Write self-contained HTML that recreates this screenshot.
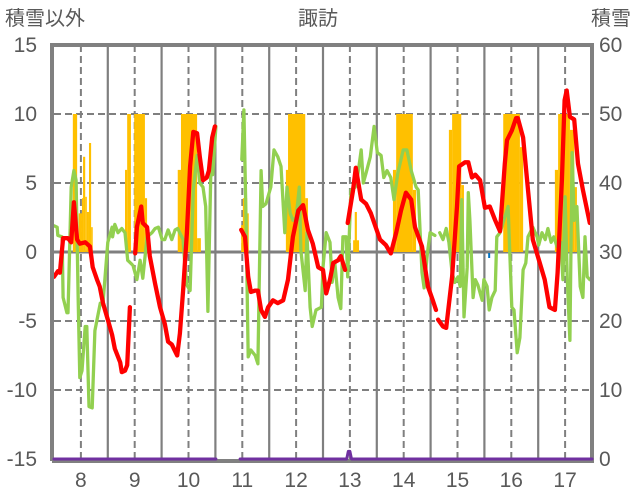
<!DOCTYPE html>
<html><head><meta charset="utf-8"><style>
html,body{margin:0;padding:0;background:#fff;}
svg{display:block;font-family:"Liberation Sans","Noto Sans CJK JP",sans-serif;}
</style></head><body>
<svg id="chart" width="636" height="501" viewBox="0 0 636 501" xmlns="http://www.w3.org/2000/svg">
<text x="5" y="25" font-size="20" fill="#595959">積雪以外</text>
<text x="318" y="25" font-size="20" fill="#595959" text-anchor="middle">諏訪</text>
<text x="631" y="25" font-size="20" fill="#595959" text-anchor="end">積雪</text>
<g id="grid"></g>
<g id="bars"></g>
<g id="lines"></g>
<g id="frame"></g>
<g id="ticks"></g>
</svg>
<script>
const yearTicks=[8,9,10,11,12,13,14,15,16,17];
const leftTicks=[15,10,5,0,-5,-10,-15];
const rightTicks=[60,50,40,30,20,10,0];
const redSegs=[
 {t:[7.50,7.57,7.61,7.67,7.76,7.82,7.87,7.93,7.98,8.08,8.17,8.22,8.30,8.35,8.41,8.50,8.58,8.63,8.73,8.76,8.82,8.86,8.91],
  v:[-1.8,-1.4,-1.5,1.0,1.0,0.7,3.6,0.9,0.6,0.7,0.4,-1.1,-2.0,-2.5,-3.7,-4.9,-6.0,-7.0,-8.0,-8.7,-8.6,-8.2,-4.0]},
 {t:[9.01,9.04,9.12,9.15,9.23,9.28,9.38,9.47,9.56,9.62,9.69,9.79,9.84,9.90,9.97,10.03,10.09,10.16,10.21,10.27,10.34,10.38,10.44,10.49],
  v:[-0.1,1.8,3.3,2.1,1.8,-0.3,-2.3,-4.0,-5.2,-6.5,-6.7,-7.5,-5.9,-2.8,1.4,6.2,8.7,8.6,6.9,5.2,5.4,5.9,8.3,9.1]},
 {t:[10.98,11.05,11.11,11.16,11.24,11.29,11.35,11.42,11.48,11.57,11.66,11.76,11.85,11.94,12.04,12.13,12.22,12.31,12.41,12.50,12.56,12.63,12.69,12.78,12.83,12.91],
  v:[1.6,1.1,-1.8,-2.9,-2.8,-2.8,-4.2,-4.7,-4.0,-3.5,-3.7,-3.5,-2.0,1.1,3.0,3.4,1.6,0.6,-1.1,-1.3,-3.0,-2.0,-0.8,-0.6,-0.3,-1.3]},
 {t:[12.96,13.06,13.11,13.21,13.30,13.39,13.56,13.67,13.76,13.86,13.95,14.04,14.14,14.21,14.34,14.45,14.54,14.60],
  v:[2.1,4.5,6.1,3.8,3.5,2.8,0.9,0.5,-0.1,1.4,3.0,4.3,3.8,1.8,0.4,-2.5,-3.5,-4.2]},
 {t:[14.64,14.73,14.79,14.90,14.99,15.03,15.14,15.20,15.27,15.33,15.42,15.51,15.60,15.70,15.79,15.88,15.92,16.01,16.09,16.12,16.22,16.31,16.40,16.53,16.62,16.71,16.81,16.86,16.94,16.99,17.03,17.09,17.17,17.24,17.33,17.41,17.46],
  v:[-4.9,-5.4,-5.5,-1.8,3.3,6.2,6.5,6.5,5.4,5.6,5.2,3.2,3.3,2.3,1.5,6.4,8.1,8.8,9.7,9.7,8.3,4.5,0.9,-0.8,-2.0,-4.0,-4.2,-1.5,5.2,11.0,11.7,9.8,9.6,6.4,4.5,3.0,2.1]}
];
const greenSegs=[
 {t:[7.50,7.56,7.57,7.65,7.67,7.74,7.76,7.82,7.87,7.91,7.95,7.98,8.02,8.08,8.11,8.15,8.21,8.26,8.36,8.41,8.50,8.58,8.59,8.63,8.69,8.76,8.82,8.87,8.95],
  v:[1.9,1.8,1.2,1.1,-3.3,-4.4,-4.4,4.7,5.9,5.2,-3.5,-9.1,-8.6,-5.4,-5.4,-11.2,-11.3,-5.7,-3.7,-3.7,0.7,1.8,1.1,2.0,1.4,1.7,1.4,-0.6,-0.9]},
 {t:[8.97,9.04,9.10,9.15,9.23,9.32,9.38,9.44,9.51,9.56,9.62,9.69,9.75,9.80,9.90,9.93,9.97,10.03,10.09,10.16,10.21,10.27,10.32,10.36,10.42,10.45,10.51],
  v:[-1.0,-2.0,-0.6,-1.9,1.1,1.4,1.7,1.8,0.9,0.9,1.6,0.9,1.6,1.7,0.9,-0.8,-2.4,-2.8,4.5,7.0,5.0,4.7,3.3,-4.3,6.7,5.6,9.1]},
 {t:[10.99,11.03,11.07,11.11,11.16,11.24,11.29,11.35,11.38,11.44,11.53,11.59,11.66,11.72,11.79,11.83,11.89,11.94,12.00,12.06,12.09,12.17,12.20,12.26,12.30,12.37,12.47,12.50,12.56,12.63,12.67,12.72,12.78,12.83,12.87,12.93,12.96,13.02,13.10,13.15,13.21,13.25,13.30,13.38,13.45,13.51,13.58,13.63,13.69,13.76,13.82,13.89,13.99,14.06,14.14,14.23,14.27,14.34,14.38,14.44,14.49,14.58],
  v:[6.7,10.3,2.1,-7.6,-7.1,-7.5,-8.1,5.9,3.3,3.5,4.7,7.4,6.9,6.2,1.4,4.7,2.8,2.3,2.5,4.7,0.1,-2.8,1.4,-4.0,-5.4,-4.2,-4.0,-1.1,1.4,0.7,-2.2,-0.8,-3.3,-4.1,1.1,1.1,-1.8,4.5,4.7,5.7,7.4,5.0,5.7,6.9,9.1,7.2,7.0,5.4,5.9,5.4,3.8,5.7,7.4,7.4,5.9,4.7,4.5,-1.5,-2.6,-0.1,1.4,1.2]},
 {t:[14.67,14.73,14.79,14.84,14.90,14.95,15.01,15.05,15.08,15.12,15.18,15.20,15.23,15.29,15.33,15.38,15.46,15.49,15.55,15.59,15.64,15.70,15.73,15.79,15.86,15.94,16.01,16.05,16.11,16.16,16.22,16.27,16.31,16.40,16.48,16.51,16.57,16.63,16.68,16.74,16.79,16.85,16.92,16.96,17.00,17.04,17.09,17.13,17.17,17.22,17.28,17.33,17.37,17.41,17.46],
  v:[1.4,0.9,1.7,0.7,-1.5,-2.2,-1.8,-2.5,3.8,-4.7,-1.1,4.3,2.3,-3.3,-2.0,-2.4,-3.5,-2.0,-2.5,-4.2,-3.3,-2.8,1.1,1.4,2.3,3.3,-4.0,-4.2,-7.3,-6.2,-1.3,-0.8,1.1,1.8,1.1,0.5,1.4,0.9,1.7,0.7,1.1,0.4,0.7,-2.0,4.0,-2.0,-6.4,7.2,2.3,3.3,-2.5,-3.3,1.1,-1.8,-2.0]}
];
const snowStart=[7.85,7.96,8.02,8.04,8.08,8.11,8.15,8.19,8.82,8.86,8.99,9.19,9.80,9.86,10.16,10.98,11.01,11.07,11.81,11.85,12.17,13.06,13.09,13.80,13.86,14.17,14.84,14.90,15.07,15.85,16.16,16.81,16.87,17.09,17.17];
const snowEnd=[7.93,8.02,8.04,8.08,8.11,8.15,8.19,8.22,8.86,8.93,9.19,9.23,9.86,10.16,10.23,11.05,11.09,11.12,11.87,12.17,12.22,13.17,13.13,13.86,14.17,14.23,14.90,15.07,15.12,16.16,16.22,16.87,17.09,17.17,17.22];
const snowVal=[50,35.6,37.8,43.8,38,35.8,45.8,33.6,41.9,50,50,37.8,41.9,50,32,33.9,37.8,35.6,41.9,50,37.8,31.7,35.8,41.9,50,39,47.7,50,39.7,50,45.2,41.9,50,47.7,39.4];
const purpleSegs=[{t:[7.5,10.51],v:[0,0]},{t:[10.96,12.94,12.97,13.0,13.03,17.5],v:[0,0,1.1,1.1,0,0]}];

const X0=54,X1=592,YT=45,YB=459;
const xs=t=>X0+(t-7.5)/10*(X1-X0);
const yl=v=>YT+(15-v)/30*(YB-YT);
const yr=v=>YT+(60-v)/60*(YB-YT);
const NS='http://www.w3.org/2000/svg';
function mk(tag,attrs,parent){const e=document.createElementNS(NS,tag);for(const k in attrs)e.setAttribute(k,attrs[k]);parent.appendChild(e);return e;}
const grid=document.getElementById('grid'),bars=document.getElementById('bars'),lines=document.getElementById('lines'),frame=document.getElementById('frame'),ticks=document.getElementById('ticks');
leftTicks.forEach(v=>{
  if(v===15||v===-15)return;
  const l=mk('line',{x1:X0,x2:X1,y1:yl(v),y2:yl(v),stroke:'#7f7f7f','stroke-width':v===0?3:2,'stroke-dasharray':v===0?'':'7 4'},grid);
  
  
});
yearTicks.forEach(y=>{
  const d=mk('line',{x1:xs(y),x2:xs(y),y1:YT,y2:YB,stroke:'#7f7f7f','stroke-width':2,'stroke-dasharray':'7 4'},grid);
  
  
  if(y<17){const s=mk('line',{x1:xs(y+0.5),x2:xs(y+0.5),y1:YT,y2:YB,stroke:'#7f7f7f','stroke-width':2.2},grid);
  
  }
});
snowVal.forEach((v,i)=>{
  const x=xs(snowStart[i]),w=xs(snowEnd[i])-x;
  const r=mk('rect',{x:x,y:yr(v),width:w,height:yr(30)-yr(v),fill:'#ffc000'},bars);
  
  
});
function drawSegs(segs,color,w,name,yf,parent){
  segs.forEach(s=>{
    const p=mk('polyline',{points:s.t.map((t,i)=>xs(t).toFixed(1)+','+yf(s.v[i]).toFixed(1)).join(' '),fill:'none',stroke:color,'stroke-width':w,'stroke-linejoin':'round','stroke-linecap':'round'},parent);
    
    
  });
}
drawSegs(greenSegs,'#92d050',3.3,'green-series',yl,lines);
drawSegs(redSegs,'#ff0000',4.3,'red-series',yl,lines);
const fr=mk('path',{d:`M${X0-2},${YB+2} V${YT} H${X1} V${YB+2} H${X0-2}`,fill:'none',stroke:'#808080','stroke-width':4},frame);


drawSegs(purpleSegs,'#7030a0',3,'purple-series',yr,frame);
const bm=mk('rect',{x:xs(15.57),y:yl(0)+1,width:2,height:5,fill:'#0070c0'},lines);


leftTicks.forEach(v=>{const t=mk('text',{x:37,y:yl(v)+7,'font-size':21,fill:'#595959','text-anchor':'end'},ticks);t.textContent=v;
 
 });
rightTicks.forEach(v=>{const t=mk('text',{x:599,y:yr(v)+7,'font-size':21,fill:'#595959'},ticks);t.textContent=v;
 
 });
yearTicks.forEach(y=>{const t=mk('text',{x:xs(y),y:487,'font-size':21,fill:'#595959','text-anchor':'middle'},ticks);t.textContent=y;
 
 });
</script>
</body></html>
